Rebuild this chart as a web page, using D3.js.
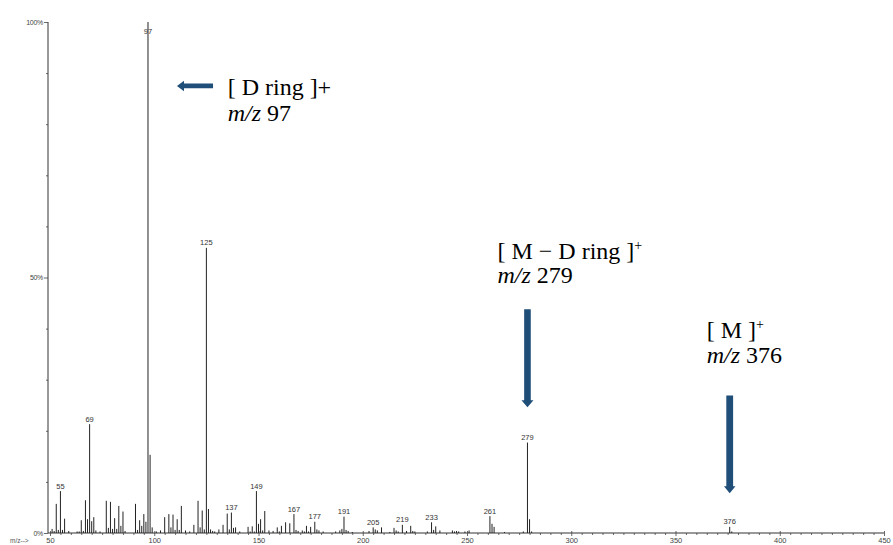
<!DOCTYPE html>
<html>
<head>
<meta charset="utf-8">
<script src="https://cdn.jsdelivr.net/npm/d3@7"></script>
<style>
  html, body { margin: 0; padding: 0; background: #fff; }
  svg { display: block; }
</style>
</head>
<body>
<div id="chart"></div>
<script>
// EI mass spectrum: m/z values and relative abundance (%)
const mzValues = [
  51, 52, 53, 54, 55, 56, 57, 59, 63, 64, 65, 66, 67, 68, 69, 70, 71, 72, 74,
  77, 78, 79, 80, 81, 82, 83, 84, 85, 86, 91, 92, 93, 94, 95, 96, 97, 98, 99,
  101, 103, 105, 107, 108, 109, 110, 111, 112, 113, 115, 117, 119, 121, 122, 123, 124,
  125, 126, 127, 128, 129, 131, 133, 135, 136, 137, 138, 139, 141, 145, 146, 147, 148,
  149, 150, 151, 152, 153, 155, 157, 159, 160, 161, 163, 165, 167, 168, 169, 171, 172,
  173, 174, 175, 177, 178, 179, 181, 187, 189, 190, 191, 192, 193, 195, 203, 205, 206,
  207, 209, 213, 215, 216, 217, 219, 221, 223, 224, 225, 231, 233, 234, 235, 237, 243,
  244, 245, 246, 249, 251, 261, 262, 263, 268, 277, 279, 280, 281, 376, 377
];
const abundance = [
  0.8, 0.4, 5.7, 0.6, 8.2, 0.6, 2.8, 0.4, 0.3, 0.3, 2.5, 0.4, 6.4, 2.7, 21.3, 2.3, 3.1, 0.5, 0.3,
  6.3, 1.0, 6.1, 0.8, 2.9, 0.8, 5.3, 1.4, 4.2, 0.4, 5.7, 0.6, 2.5, 1.4, 3.7, 2.2, 100, 15.3, 1.1,
  0.3, 0.5, 3.1, 3.7, 1.1, 3.6, 0.6, 2.7, 0.6, 5.3, 0.5, 0.3, 1.6, 6.3, 1.1, 4.4, 0.7,
  55.8, 4.7, 0.7, 0.4, 0.3, 0.7, 1.6, 3.8, 0.7, 4.0, 1.0, 1.1, 0.3, 1.2, 0.3, 1.3, 0.3,
  8.2, 1.8, 2.7, 0.5, 4.3, 0.5, 0.4, 1.1, 0.3, 1.4, 2.1, 1.9, 3.7, 0.6, 0.4, 0.5, 0.3,
  1.4, 0.3, 1.2, 2.2, 0.7, 0.5, 0.3, 0.3, 0.5, 0.8, 3.2, 0.6, 0.4, 0.2, 0.4, 1.1, 0.7,
  0.5, 1.1, 0.2, 1.0, 0.5, 0.3, 1.6, 0.4, 1.4, 0.4, 0.3, 0.3, 2.1, 0.6, 1.3, 0.5, 0.5,
  0.3, 0.4, 0.3, 0.3, 0.5, 3.3, 1.8, 1.2, 0.2, 0.3, 17.7, 2.7, 0.3, 1.2, 0.3
];
// peaks carrying an m/z label
const labeledMz = [55, 69, 97, 125, 137, 149, 167, 177, 191, 205, 219, 233, 261, 279, 376];

const xTickValues = [50, 100, 150, 200, 250, 300, 350, 400, 450];
const yTickValues = [0, 50, 100];
const yTickLabels = ["0%", "50%", "100%"];

// fragment annotations: text lines and arrows (in m/z and % units)
const annotLines = [
  { mz: 135.2, pct: 85.8, parts: [{ t: "[ D ring ]+" }] },
  { mz: 135.2, pct: 80.6, parts: [{ t: "m/z", i: true }, { t: " 97" }] },
  { mz: 264.6, pct: 53.6, parts: [{ t: "[ M \u2212 D ring ]" }, { t: "+", sup: true }] },
  { mz: 264.6, pct: 48.9, parts: [{ t: "m/z", i: true }, { t: " 279" }] },
  { mz: 365.0, pct: 38.2, parts: [{ t: "[ M ]" }, { t: "+", sup: true }] },
  { mz: 365.0, pct: 33.3, parts: [{ t: "m/z", i: true }, { t: " 376" }] }
];
// arrows: from (mz0,pct0) to tip (mz1,pct1)
const arrows = [
  { mz0: 128.2, pct0: 87.5, mz1: 110.9, pct1: 87.5, shaft: 4.6, headW: 10.5, headL: 7 },
  { mz0: 279, pct0: 43.8, mz1: 279, pct1: 24.6, shaft: 6.6, headW: 12, headL: 7 },
  { mz0: 376, pct0: 26.9, mz1: 376, pct1: 7.8, shaft: 6.8, headW: 11.5, headL: 7 }
];

const W = 893, H = 545;
const axisX = 48;

const svg = d3.select("#chart").append("svg")
  .attr("width", W).attr("height", H)
  .attr("viewBox", `0 0 ${W} ${H}`);

const x = d3.scaleLinear().domain([50, 450]).range([50, 884]);
const y = d3.scaleLinear().domain([0, 100]).range([533, 22]);

const peaks = mzValues.map((m, i) => ({ mz: m, v: abundance[i] }));

// ---- axes ----
const tickFont = "'Liberation Sans', Arial, sans-serif";

// x axis line
svg.append("line")
  .attr("x1", axisX).attr("x2", x(450))
  .attr("y1", y(0)).attr("y2", y(0))
  .attr("stroke", "#333").attr("stroke-width", 1);

const xAxis = d3.axisBottom(x)
  .tickValues(d3.range(50, 451, 5))
  .tickSize(2)
  .tickSizeOuter(0)
  .tickFormat(d => (xTickValues.includes(d) ? d : ""));
const gx = svg.append("g").attr("transform", `translate(0,${y(0)})`).call(xAxis);
gx.select(".domain").remove();
gx.selectAll(".tick line").attr("stroke", "#444").attr("stroke-width", 0.8)
  .attr("y1", d => (xTickValues.includes(d) ? -2 : 0))
  .attr("y2", d => (xTickValues.includes(d) ? 3 : 2));
gx.selectAll(".tick text")
  .attr("y", 5).attr("dy", "0.71em")
  .attr("font-family", tickFont).attr("font-size", 7.5).attr("fill", "#444");

// y axis
const yAxis = d3.axisLeft(y)
  .tickValues(d3.range(0, 101, 10))
  .tickSize(2)
  .tickSizeOuter(0)
  .tickFormat(d => {
    const k = yTickValues.indexOf(d);
    return k >= 0 ? yTickLabels[k] : "";
  });
const gy = svg.append("g").attr("transform", `translate(${axisX},0)`).call(yAxis);
gy.select(".domain").attr("stroke", "#333").attr("d", `M0,${y(100)}V${y(0)}`);
gy.selectAll(".tick line").attr("stroke", "#444").attr("stroke-width", 0.8)
  .attr("x2", d => (yTickValues.includes(d) ? -4 : -2));
gy.selectAll(".tick text")
  .attr("x", -5)
  .attr("font-family", tickFont).attr("font-size", 7).attr("fill", "#444")
  .attr("letter-spacing", -0.3);

svg.append("text")
  .attr("x", 10).attr("y", 543)
  .attr("font-family", tickFont).attr("font-size", 6.5).attr("fill", "#555")
  .text("m/z-->");

// ---- spectrum sticks ----
svg.append("g").selectAll("line")
  .data(peaks)
  .join("line")
  .attr("x1", d => x(d.mz)).attr("x2", d => x(d.mz))
  .attr("y1", y(0)).attr("y2", d => y(d.v))
  .attr("stroke", "#222").attr("stroke-width", 1);

// peak labels
svg.append("g").selectAll("text")
  .data(peaks.filter(d => labeledMz.includes(d.mz)))
  .join("text")
  .attr("x", d => x(d.mz))
  .attr("y", d => Math.max(y(d.v) - 2.5, 34))
  .attr("text-anchor", "middle")
  .attr("font-family", tickFont).attr("font-size", 7.5).attr("fill", "#333")
  .text(d => d.mz);

// ---- annotations ----
const serif = "'Liberation Serif', 'Times New Roman', serif";
const ag = svg.append("g");
annotLines.forEach(line => {
  const t = ag.append("text")
    .attr("x", x(line.mz)).attr("y", y(line.pct))
    .attr("font-family", serif).attr("font-size", 24).attr("fill", "#000");
  line.parts.forEach(p => {
    const s = t.append("tspan").text(p.t);
    if (p.i) s.attr("font-style", "italic");
    if (p.sup) s.attr("font-size", 14).attr("dy", -9);
  });
});

const arrowColor = "#1F4E79";
arrows.forEach(a => {
  const x0 = x(a.mz0), y0 = y(a.pct0), x1 = x(a.mz1), y1 = y(a.pct1);
  const len = Math.hypot(x1 - x0, y1 - y0);
  const ux = (x1 - x0) / len, uy = (y1 - y0) / len;   // direction
  const px = -uy, py = ux;                             // perpendicular
  const bx = x1 - ux * a.headL, by = y1 - uy * a.headL; // base of head
  const s = a.shaft / 2, h = a.headW / 2;
  const pts = [
    [x0 + px * s, y0 + py * s],
    [bx + px * s, by + py * s],
    [bx + px * h, by + py * h],
    [x1, y1],
    [bx - px * h, by - py * h],
    [bx - px * s, by - py * s],
    [x0 - px * s, y0 - py * s]
  ];
  ag.append("path")
    .attr("d", d3.line()(pts) + "Z")
    .attr("fill", arrowColor);
});
</script>
</body>
</html>
